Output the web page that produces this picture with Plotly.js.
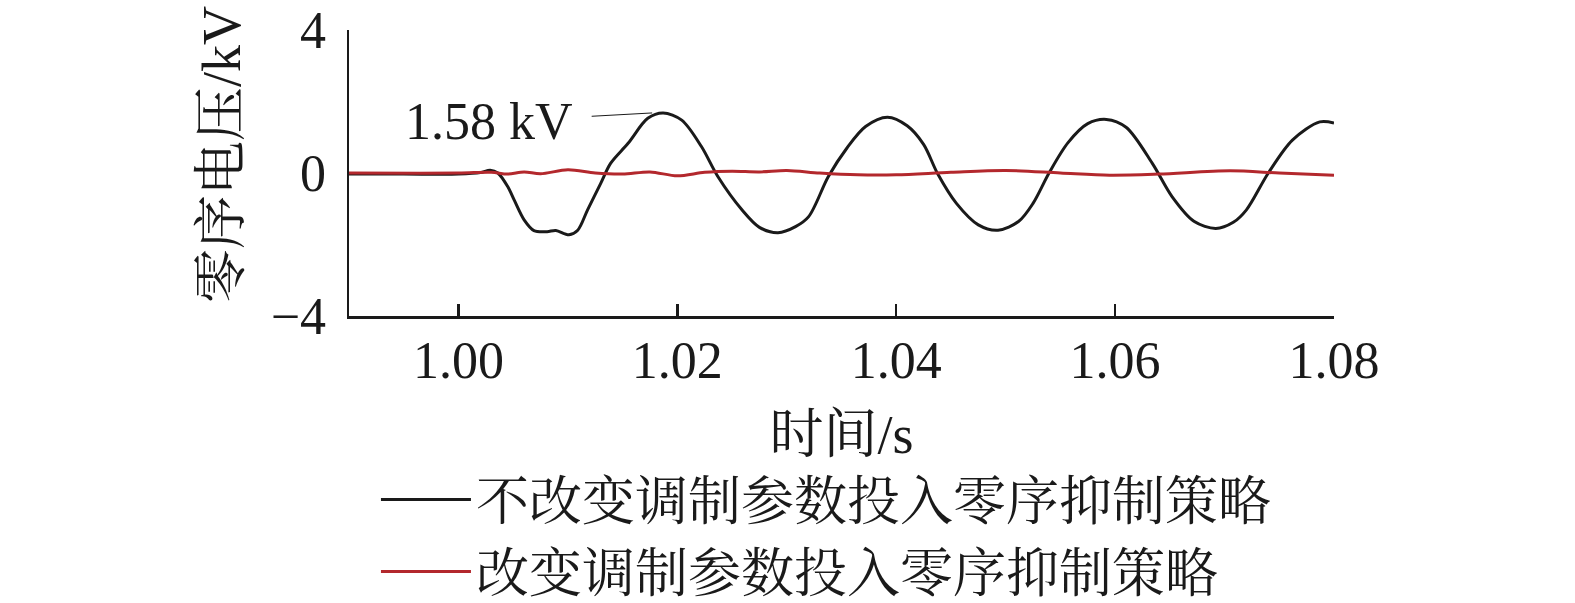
<!DOCTYPE html>
<html>
<head>
<meta charset="utf-8">
<script src="https://cdn.plot.ly/plotly-3.0.1.min.js"></script>
<style>html,body{margin:0;padding:0;background:#fff;}#chart{width:1575px;height:603px;}</style>
</head>
<body>
<div id="chart"></div>
<script>
// ---- data ----
const seriesNames = ["不改变调制参数投入零序抑制策略", "改变调制参数投入零序抑制策略"];

const timeBlack = [0.990, 0.995, 1.000, 1.002, 1.0029, 1.0036, 1.0045, 1.0051, 1.0060, 1.0069,
  1.0081, 1.0089, 1.0101, 1.0109, 1.0118, 1.0130, 1.0139, 1.0155, 1.0173, 1.0187,
  1.0204, 1.0222, 1.0237, 1.0259, 1.0275, 1.0292, 1.0308, 1.0320, 1.0338, 1.0355,
  1.0372, 1.0392, 1.0410, 1.0425, 1.0438, 1.0455, 1.0475, 1.0493, 1.0512, 1.0525,
  1.0540, 1.0557, 1.0575, 1.0592, 1.0610, 1.0634, 1.0652, 1.0672, 1.0692, 1.0708,
  1.0720, 1.0740, 1.0762, 1.0787, 1.0800];
const voltBlack = [-0.03, -0.03, -0.03, 0.01, 0.08, 0.00, -0.38, -0.76, -1.31, -1.61,
  -1.64, -1.61, -1.73, -1.60, -1.03, -0.29, 0.27, 0.83, 1.53, 1.68,
  1.48, 0.74, -0.10, -1.03, -1.52, -1.67, -1.50, -1.22, -0.10, 0.70,
  1.30, 1.56, 1.32, 0.80, -0.03, -0.85, -1.45, -1.60, -1.35, -0.85,
  0.02, 0.85, 1.38, 1.50, 1.28, 0.27, -0.66, -1.35, -1.55, -1.38,
  -1.03, 0.00, 0.92, 1.43, 1.40];

const timeRed = [0.990, 1.000, 1.003, 1.0045, 1.006, 1.0075, 1.010, 1.0125, 1.015, 1.0175,
  1.020, 1.0225, 1.025, 1.0275, 1.030, 1.033, 1.0365, 1.040, 1.045, 1.050,
  1.055, 1.0595, 1.064, 1.0705, 1.075, 1.080];
const voltRed = [0.00, 0.00, 0.02, -0.03, 0.03, -0.02, 0.09, 0.00, -0.03, 0.03,
  -0.08, 0.02, 0.05, 0.03, 0.07, 0.00, -0.05, -0.05, 0.02, 0.07,
  0.00, -0.06, -0.03, 0.06, 0.00, -0.06];

const xTickVals = [1.00, 1.02, 1.04, 1.06, 1.08];
const xTickText = ["1.00", "1.02", "1.04", "1.06", "1.08"];
const yTickVals = [-4, 0, 4];
const yTickText = ["\u22124", "0", "4"];

const peakLabel = "1.58 kV";
const peakT = 1.0177, peakV = 1.68;

const FONT = "'Liberation Serif', 'Noto Serif CJK SC', 'Noto Sans CJK SC', serif";

const traces = [
  {x: timeBlack, y: voltBlack, type: "scatter", mode: "lines", name: seriesNames[0],
   legendgroup: "a", line: {color: "#1a1a1a", width: 3, shape: "spline", smoothing: 0.9}},
  {x: timeRed, y: voltRed, type: "scatter", mode: "lines", name: seriesNames[1],
   legendgroup: "b", line: {color: "#b3282d", width: 3, shape: "spline", smoothing: 0.9}}
];

const layout = {
  width: 1575, height: 603,
  margin: {l: 349, r: 241, t: 30, b: 287, autoexpand: false},
  paper_bgcolor: "#fff", plot_bgcolor: "#fff",
  font: {family: FONT, size: 52, color: "#1a1a1a"},
  showlegend: true,
  legend: {x: 0.2387, xref: "container", xanchor: "left", y: 0.2395, yref: "container",
    yanchor: "top", orientation: "v",
    font: {family: FONT, size: 53, color: "#1a1a1a"}, itemwidth: 90, tracegroupgap: 0,
    bgcolor: "rgba(0,0,0,0)"},
  xaxis: {range: [0.99, 1.08], tickvals: xTickVals, ticktext: xTickText, automargin: false,
    ticks: "inside", ticklen: 12, tickwidth: 2.5, tickcolor: "#1a1a1a", layer: "below traces",
    showline: true, linewidth: 2.5, linecolor: "#1a1a1a", showgrid: false, zeroline: false,
    tickfont: {family: FONT, size: 52}, ticklabelstandoff: -3,
    title: {text: "时间/s", font: {family: FONT, size: 54}, standoff: 28}},
  yaxis: {range: [-4, 4], tickvals: yTickVals, ticktext: yTickText, automargin: false,
    ticks: "inside", ticklen: 12, tickwidth: 2.5, tickcolor: "#1a1a1a", layer: "below traces",
    showline: true, linewidth: 2.5, linecolor: "#1a1a1a", showgrid: false, zeroline: false,
    tickfont: {family: FONT, size: 52}, ticklabelstandoff: 10},
  annotations: [
    {x: peakT, y: peakV, xref: "x", yref: "y", text: peakLabel, showarrow: true,
     arrowhead: 0, arrowwidth: 1, arrowcolor: "#1a1a1a", ax: -163, ay: 9,
     borderpad: 18, font: {family: FONT, size: 52, color: "#1a1a1a"}},
    {x: -0.129, y: 0.566, xref: "paper", yref: "paper", text: "零序电压/kV", textangle: -90,
     showarrow: false, xanchor: "center", yanchor: "middle",
     font: {family: FONT, size: 54, color: "#1a1a1a"}}
  ]
};

Plotly.newPlot("chart", traces, layout, {staticPlot: true, displayModeBar: false});
</script>
</body>
</html>
